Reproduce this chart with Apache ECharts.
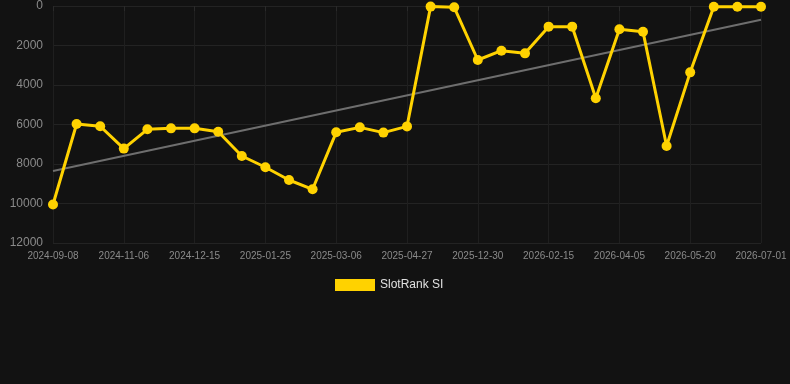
<!DOCTYPE html>
<html><head><meta charset="utf-8">
<script src="https://cdn.jsdelivr.net/npm/echarts@6/dist/echarts.min.js"></script>
<style>html,body{margin:0;padding:0;background:#121212;}#c{width:790px;height:384px;}</style>
</head><body><div id="c"></div>
<script>
const categories = ['2024-09-08','2024-09-21','2024-10-05','2024-11-06','2024-11-18','2024-11-29','2024-12-15','2024-12-28','2025-01-10','2025-01-25','2025-02-06','2025-02-20','2025-03-06','2025-03-20','2025-04-06','2025-04-27','2025-06-15','2025-09-10','2025-12-30','2026-01-15','2026-01-30','2026-02-15','2026-02-28','2026-03-15','2026-04-05','2026-04-18','2026-05-01','2026-05-20','2026-06-05','2026-06-18','2026-07-01'];
const rankValues = [10050,5975,6090,7220,6245,6195,6195,6365,7595,8165,8810,9280,6395,6145,6410,6095,30,65,2734,2262,2397,1046,1046,4675,1181,1300,7089,3359,35,35,35];
const trendValues = [8350, 700];
const yTicks = [0, 2000, 4000, 6000, 8000, 10000, 12000];
const seriesName = 'SlotRank SI';

const chart = echarts.init(document.getElementById('c'));
chart.setOption({
  backgroundColor: '#121212',
  animation: false,
  grid: {left: 53, right: 29, top: 6, bottom: 141},
  legend: {
    top: 274, left: 330,
    data: [seriesName],
    itemWidth: 40, itemHeight: 12, icon: 'rect', itemGap: 10,
    textStyle: {color: '#e0e0e0', fontSize: 12, fontFamily: 'Liberation Sans, Arial, sans-serif'}
  },
  xAxis: {
    type: 'category', data: categories, boundaryGap: false,
    axisLine: {show: false},
    axisTick: {show: true, interval: 2, length: 5, lineStyle: {color: '#2a2a2a'}},
    axisLabel: {interval: 2, color: '#8a8a8a', fontSize: 10, margin: 8, fontFamily: 'Liberation Sans, Arial, sans-serif'},
    splitLine: {show: true, interval: 2, lineStyle: {color: '#1f1f1f', width: 1}}
  },
  yAxis: {
    type: 'value', inverse: true, min: yTicks[0], max: yTicks[yTicks.length-1], interval: 2000,
    axisLine: {show: false}, axisTick: {show: false},
    axisLabel: {color: '#8a8a8a', fontSize: 12, margin: 10, formatter: v => String(v), fontFamily: 'Liberation Sans, Arial, sans-serif'},
    splitLine: {lineStyle: {color: '#232323', width: 1}}
  },
  series: [
    {
      name: 'trend', type: 'line', silent: true,
      data: [[categories[0], trendValues[0]], [categories[categories.length-1], trendValues[1]]],
      symbol: 'none', lineStyle: {color: '#6e6e6e', width: 2}, z: 1
    },
    {
      name: seriesName, type: 'line', data: rankValues,
      symbol: 'circle', symbolSize: 10,
      itemStyle: {color: '#FFD200'},
      lineStyle: {color: '#FFD200', width: 3}, z: 2
    }
  ]
});
</script></body></html>
